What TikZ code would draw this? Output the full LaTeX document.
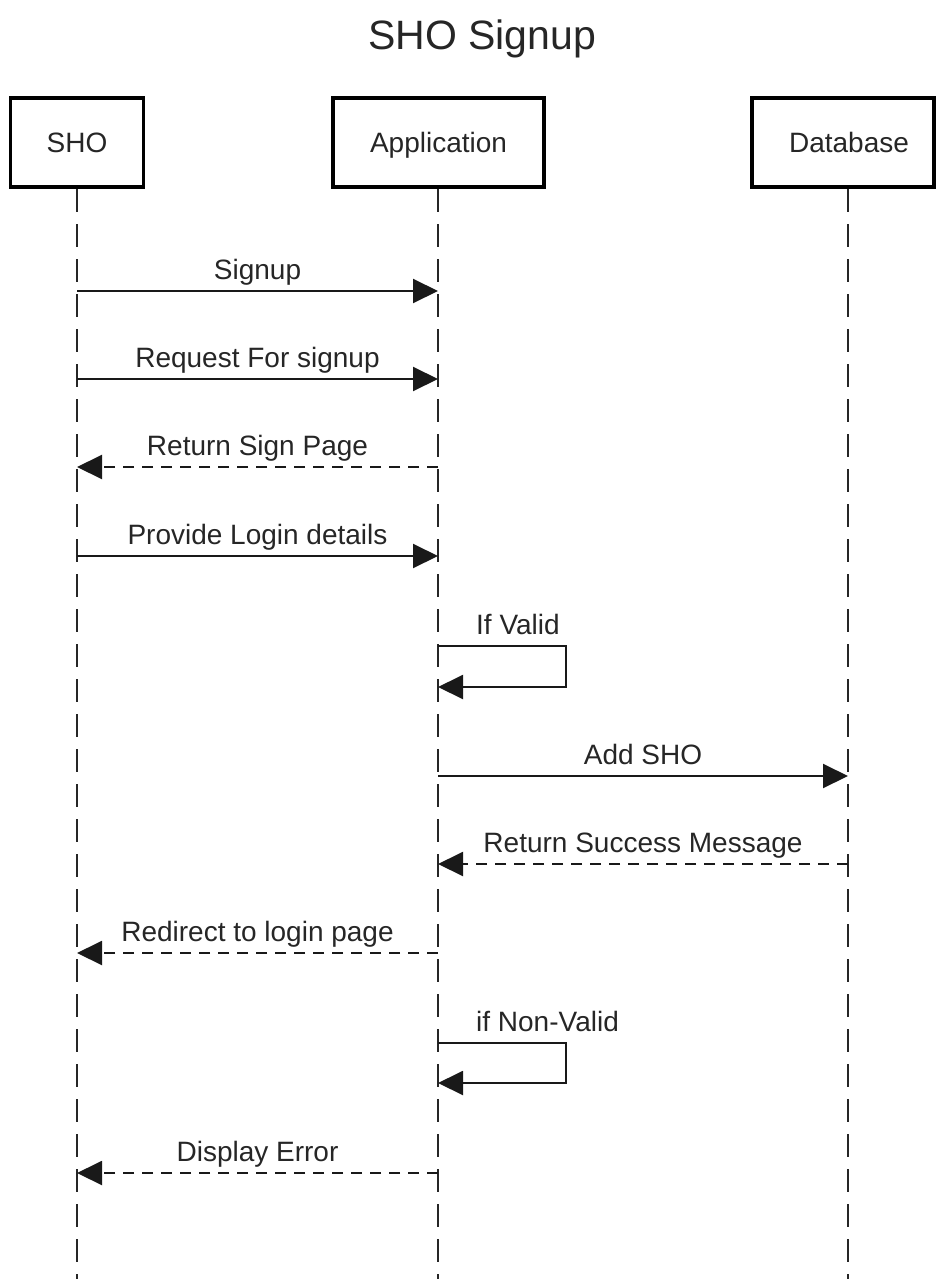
\documentclass[tikz,border=0pt]{standalone}
\usepackage{fontspec}
\setmainfont{Liberation Sans}
\usetikzlibrary{arrows.meta}
\begin{document}
\begin{tikzpicture}[x=1pt,y=-1pt,
  lbl/.style={font=\fontsize{28}{32}\selectfont, text=black!85, inner sep=0pt},
  actor/.style={draw, line width=3.5pt, minimum height=89pt, inner sep=0pt, text height=20pt, text depth=0pt, font=\fontsize{28}{32}\selectfont, text=black!85},
  life/.style={line width=2pt, dash pattern=on 23pt off 12pt, draw=black!85},
  msg/.style={line width=2pt, draw=black!90, -{Triangle[length=25pt,width=24pt]}},
  ret/.style={msg, dash pattern=on 11pt off 8pt},
]
\useasboundingbox (0,0) rectangle (936,1279);
\node[font=\fontsize{41}{46}\selectfont, text=black!85, anchor=base, inner sep=0pt] (title) at (482,50) {SHO Signup};

\node[actor, minimum width=133pt] (sho) at (77,142.5) {SHO};
\node[actor, minimum width=211pt] (app) at (438.5,142.5) {Application};
\node[actor, minimum width=182pt] (db) at (843,142.5) {\hspace{12pt}Database};

\coordinate (shoTop) at (77,189);
\coordinate (shoEnd) at (77,1279);
\coordinate (appTop) at (438,189);
\coordinate (appEnd) at (438,1279);
\coordinate (dbTop) at (848,189);
\coordinate (dbEnd) at (848,1279);
\draw[life] (shoTop) -- (shoEnd);
\draw[life] (appTop) -- (appEnd);
\draw[life] (dbTop) -- (dbEnd);

% message coordinates
\foreach \n/\y in {1/291,2/379,3/467,4/556,5/953,6/1173} {
  \coordinate (s\n) at (77,\y);
  \coordinate (a\n) at (438,\y);
}
\coordinate (v1) at (438,646);
\coordinate (v2) at (438,687);
\coordinate (n1) at (438,1043);
\coordinate (n2) at (438,1083);
\coordinate (a7) at (438,776);
\coordinate (d7) at (848,776);
\coordinate (a8) at (438,864);
\coordinate (d8) at (848,864);

\draw[msg] (s1) -- (a1) node[lbl, midway, anchor=base, yshift=12pt] (l1) {Signup};
\draw[msg] (s2) -- (a2) node[lbl, midway, anchor=base, yshift=12pt] (l2) {Request For signup};
\draw[ret] (a3) -- (s3) node[lbl, midway, anchor=base, yshift=12pt] (l3) {Return Sign Page};
\draw[msg] (s4) -- (a4) node[lbl, midway, anchor=base, yshift=12pt] (l4) {Provide Login details};

\draw[msg] (v1) -- ++(128,0) -- ++(0,41) -- (v2);
\node[lbl, anchor=base west] (lv) at (476,634) {If Valid};

\draw[msg] (a7) -- (d7) node[lbl, midway, anchor=base, yshift=12pt] (l7) {Add SHO};
\draw[ret] (d8) -- (a8) node[lbl, midway, anchor=base, yshift=12pt] (l8) {Return Success Message};
\draw[ret] (a5) -- (s5) node[lbl, midway, anchor=base, yshift=12pt] (l5) {Redirect to login page};

\draw[msg] (n1) -- ++(128,0) -- ++(0,40) -- (n2);
\node[lbl, anchor=base west] (ln) at (476,1031) {if Non-Valid};

\draw[ret] (a6) -- (s6) node[lbl, midway, anchor=base, yshift=12pt] (l6) {Display Error};
\end{tikzpicture}
\end{document}
